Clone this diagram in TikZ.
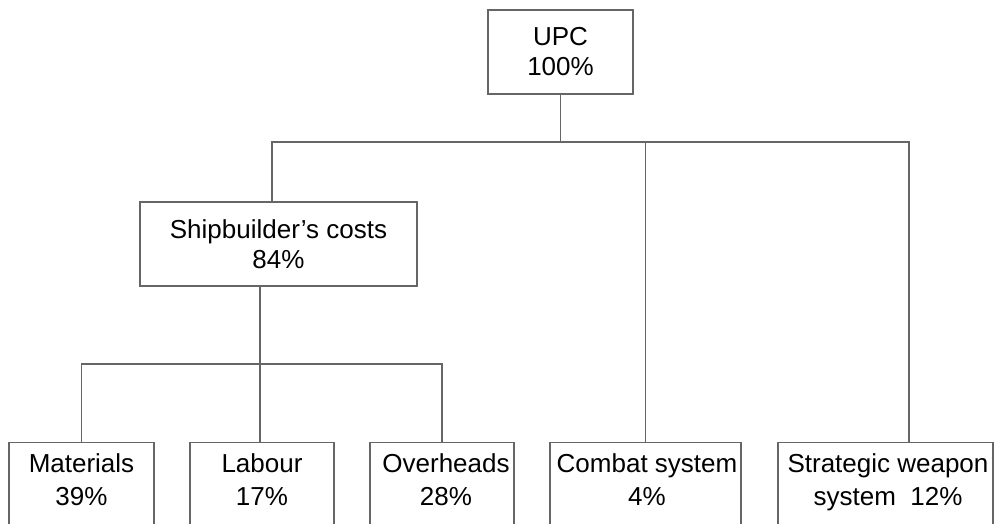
\documentclass[tikz,border=0pt]{standalone}
\usepackage{fontspec}
\setmainfont{Liberation Sans}
\usepackage{tikz}

\begin{document}
\begin{tikzpicture}[x=1pt,y=1pt,yscale=-1,xscale=1,
  costbox/.style={draw=black!60, line width=1.3pt, rectangle, inner sep=0pt},
  costtext/.style={align=center, inner sep=0pt, font=\fontsize{26}{30}\selectfont},
  link/.style={draw=black!60, line width=1.3pt}]
\useasboundingbox (0,0) rectangle (996,524);
\clip (0,0) rectangle (996,524);

%Shape: Rectangle [UPC]
\node[costbox, costtext, minimum width=145, minimum height=84] (upc) at (560.5,52) {UPC\\100\%};
%Shape: Rectangle [Shipbuilder]
\node[costbox, costtext, minimum width=277, minimum height=84] (ship) at (278.5,244) {Shipbuilder's costs\\84\%};

%Shape: Rectangle [bottom row, cut off at the lower edge]
\node[costbox, anchor=north, minimum width=145, minimum height=120] (mat) at (81.5,442) {};
\node[costbox, anchor=north, minimum width=144, minimum height=120] (lab) at (262,442) {};
\node[costbox, anchor=north, minimum width=144, minimum height=120] (over) at (442,442) {};
\node[costbox, anchor=north, minimum width=191, minimum height=120] (comb) at (645.5,442) {};
\node[costbox, anchor=north, minimum width=215, minimum height=120] (strat) at (885.5,442) {};

% Text Node
\node[costtext, anchor=north] (mat-t) at (81.5,453.5) {Materials\\[3pt]39\%};
% Text Node
\node[costtext, anchor=north] (lab-t) at (262,453.5) {Labour\\[3pt]17\%};
% Text Node
\node[costtext, anchor=north] (over-t) at (446,453.5) {Overheads\\[3pt]28\%};
% Text Node
\node[costtext, anchor=north] (comb-t) at (647,453.5) {Combat system\\[3pt]4\%};
% Text Node
\node[costtext, anchor=north] (strat-t) at (888,453.5) {Strategic weapon\\[3pt]system~~12\%};

%Straight Lines [UPC to second level]
\coordinate (topbar) at (upc.south |- 0,142);
\draw[link] (upc.south) -- (topbar);
\draw[link] ([xshift=-6.5pt]ship.north) |- (topbar) -| ([xshift=23.5pt]strat.north);
\draw[link] (topbar -| comb.north) -- (comb.north);

%Straight Lines [Shipbuilder to bottom row]
\coordinate (lowbar) at (260,364);
\draw[link] (ship.south -| lowbar) -- (lowbar);
\draw[link] (mat.north) |- (lowbar) -| (over.north);
\draw[link] (lowbar) -- (lab.north -| lowbar);

\end{tikzpicture}
\end{document}
